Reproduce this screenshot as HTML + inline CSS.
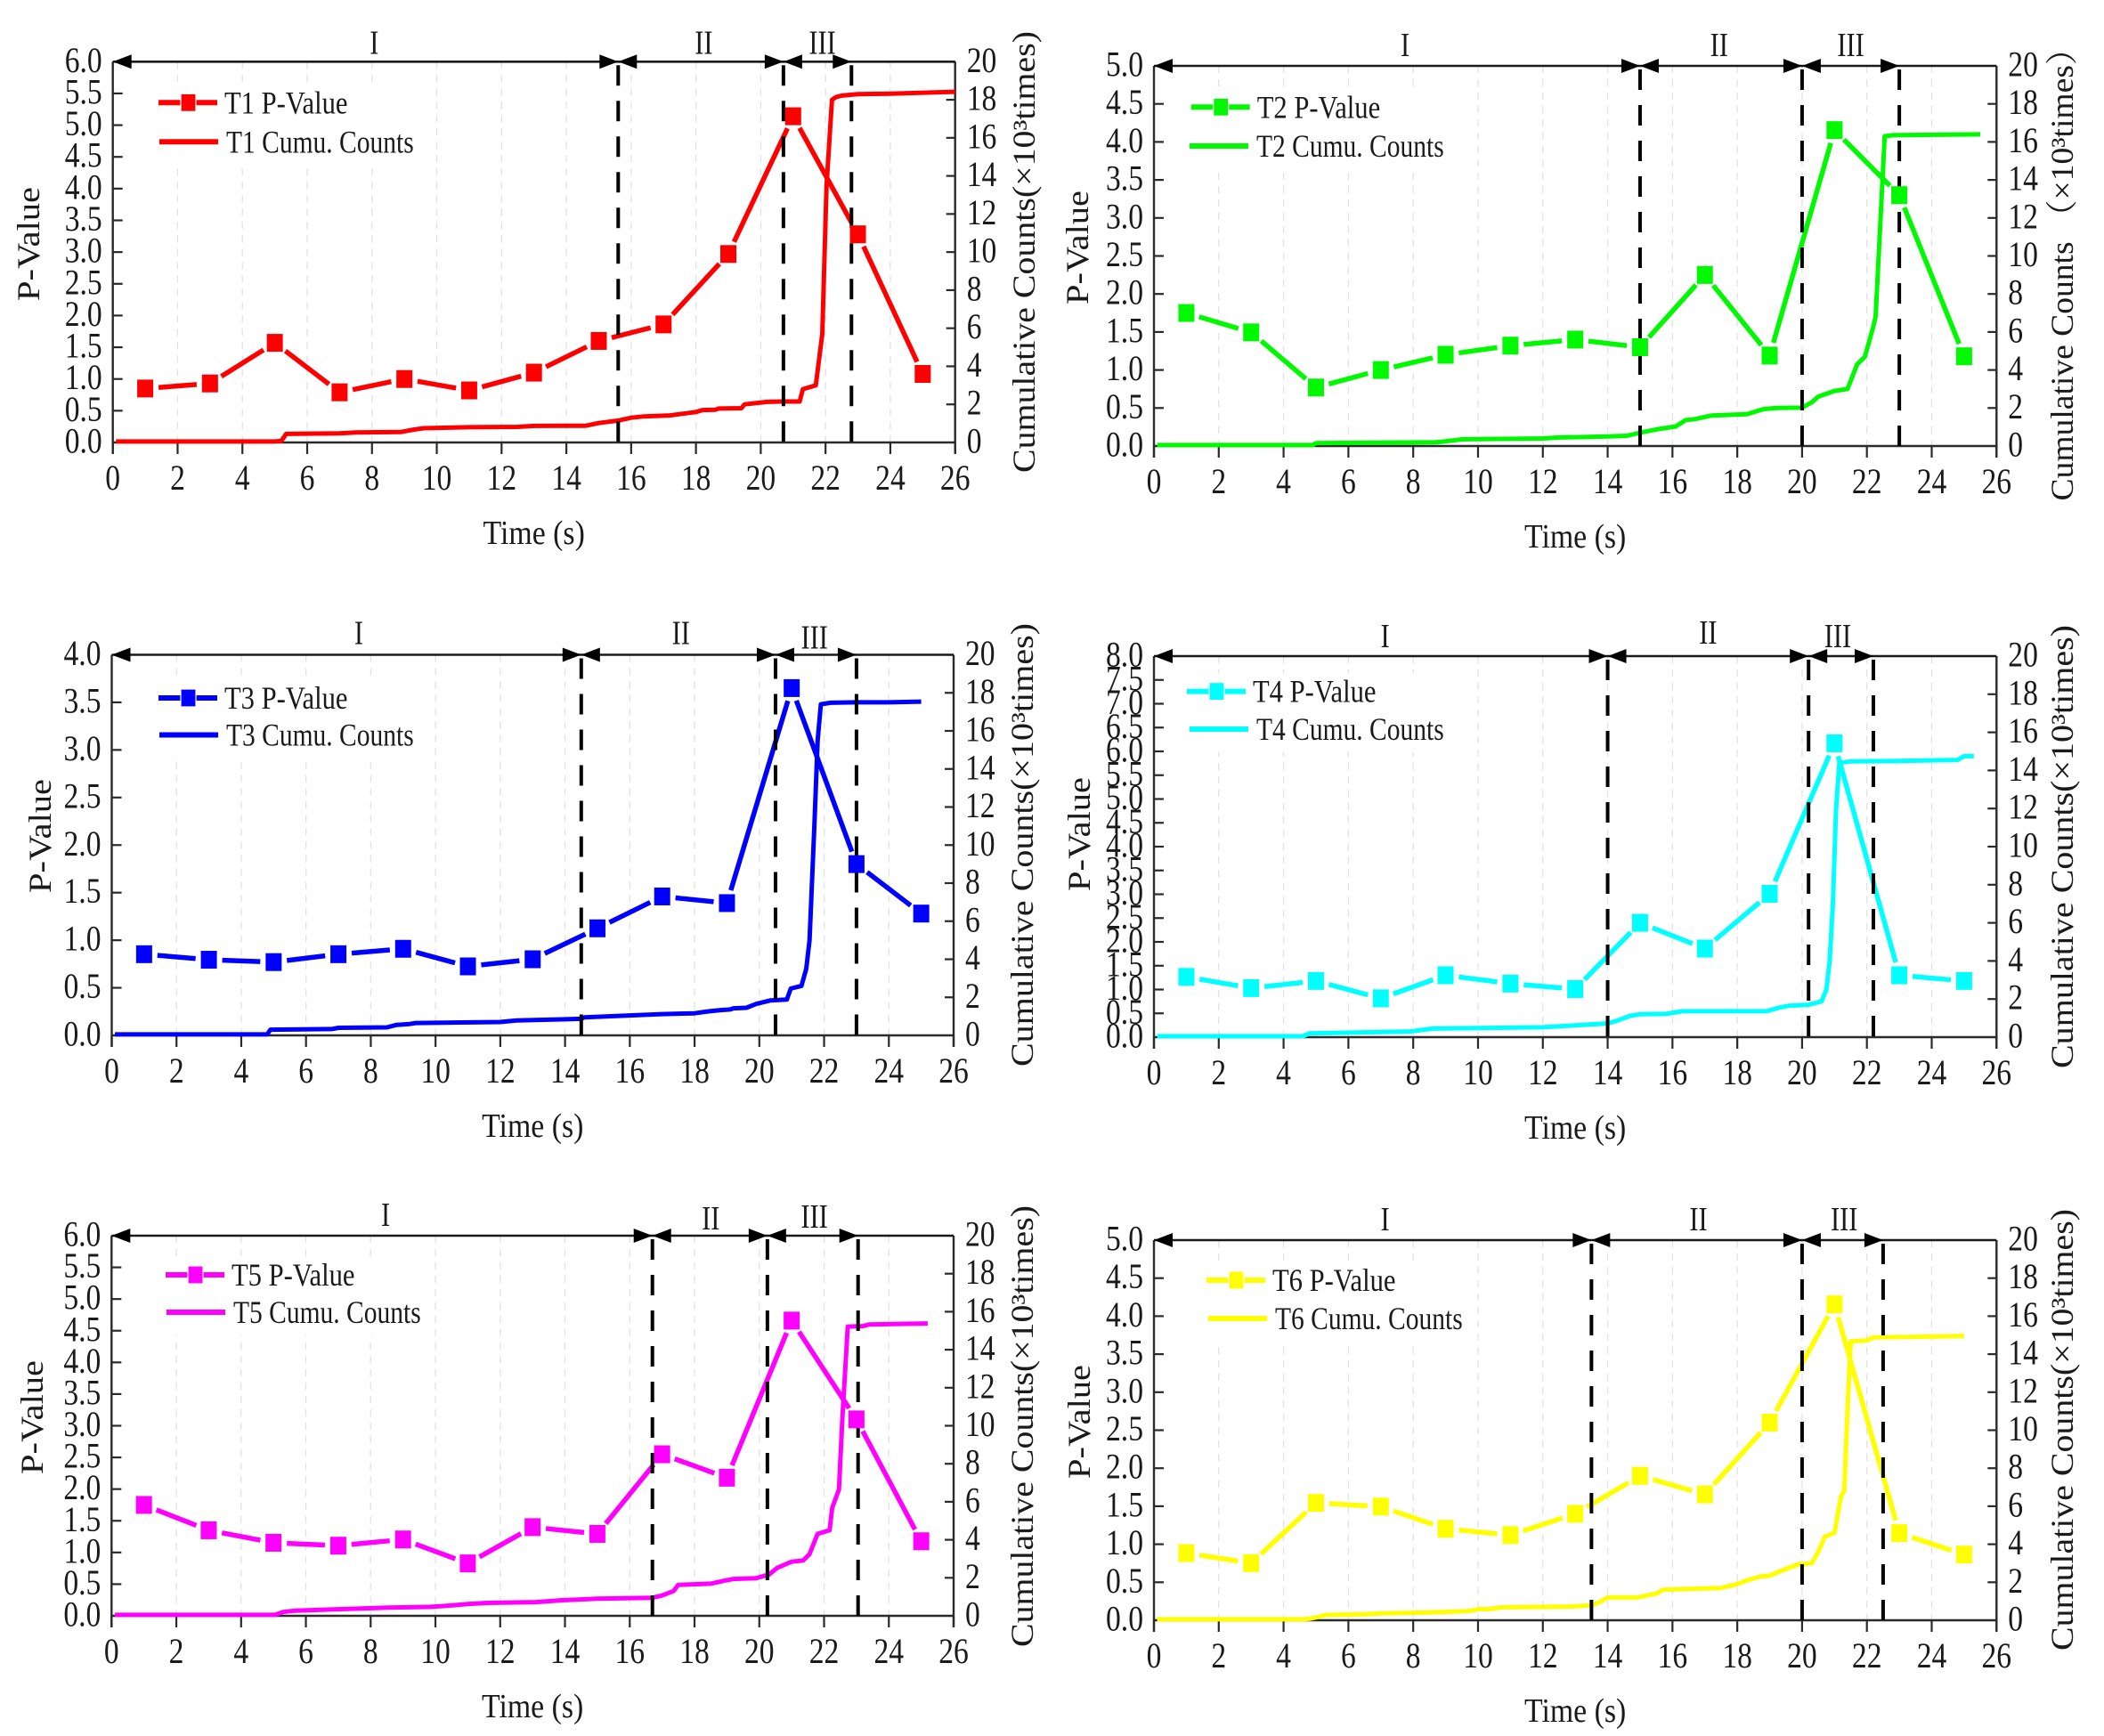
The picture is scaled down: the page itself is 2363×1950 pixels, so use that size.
<!DOCTYPE html>
<html lang="en">
<head>
<meta charset="utf-8">
<title>P-Value and Cumulative Counts for T1–T6</title>
<style>
html,body{margin:0;padding:0;background:#fff;}
svg{display:block;}
text{font-family:"Liberation Serif","Noto Serif CJK SC",serif;fill:#1a1a1a;}
</style>
</head>
<body>
<svg id="chart" xmlns="http://www.w3.org/2000/svg" width="2363" height="1950" viewBox="0 0 2363 1950">
  <rect x="0" y="0" width="2363" height="1950" fill="#ffffff"/>
  <g id="panel-t1"></g>
  <g id="panel-t2"></g>
  <g id="panel-t3"></g>
  <g id="panel-t4"></g>
  <g id="panel-t5"></g>
  <g id="panel-t6"></g>
</svg>
<script>
// Shared axis data
const sampleTimes = [1,3,5,7,9,11,13,15,17,19,21,23,25];
const timeTicks = [0,2,4,6,8,10,12,14,16,18,20,22,24,26];
const countTicks = [0,2,4,6,8,10,12,14,16,18,20];
const phaseNames = ['I','II','III'];

// T1
const t1PTicks = ['0.0','0.5','1.0','1.5','2.0','2.5','3.0','3.5','4.0','4.5','5.0','5.5','6.0'];
const t1PValues = [0.85,0.93,1.57,0.79,1.0,0.82,1.1,1.6,1.86,2.97,5.14,3.28,1.08];
const t1CumuTimes = [0.1,5.0,5.2,5.35,7,7.5,8.9,9.3,9.6,11,12.5,13,14.6,15,15.6,16,16.4,17.2,18,18.2,18.6,18.7,19.4,19.5,20.2,20.7,21.2,21.3,21.7,21.9,22.03,22.2,22.33,22.5,23,24,26];
const t1CumuCounts = [0.05,0.05,0.08,0.45,0.48,0.53,0.55,0.68,0.75,0.8,0.82,0.87,0.88,1.02,1.15,1.3,1.37,1.42,1.6,1.7,1.72,1.78,1.8,2.0,2.13,2.15,2.15,2.8,3.0,5.7,13.5,18.0,18.15,18.22,18.3,18.32,18.42];
const t1Phases = [15.6,20.7,22.8];
const t1PhaseLabelTimes = [8.07,18.24,21.9];

// T2
const t2PTicks = ['0.0','0.5','1.0','1.5','2.0','2.5','3.0','3.5','4.0','4.5','5.0'];
const t2PValues = [1.75,1.495,0.77,1.0,1.2,1.32,1.4,1.3,2.25,1.19,4.155,3.3,1.18];
const t2CumuTimes = [0.1,4.9,5,8.7,9,9.5,12,12.5,14,14.6,15,15.5,16.1,16.4,16.7,17.2,18.3,18.8,19.2,20,20.3,20.5,21,21.4,21.7,21.94,22.2,22.27,22.55,22.8,25.5];
const t2CumuCounts = [0.05,0.05,0.15,0.2,0.25,0.35,0.4,0.45,0.5,0.54,0.7,0.87,1.03,1.36,1.42,1.6,1.67,1.94,2.0,2.02,2.3,2.6,2.9,3.0,4.3,4.7,6.3,6.8,16.3,16.35,16.4];
const t2Phases = [15,20,23];
const t2PhaseLabelTimes = [7.75,17.44,21.5];

// T3
const t3PTicks = ['0.0','0.5','1.0','1.5','2.0','2.5','3.0','3.5','4.0'];
const t3PValues = [0.853,0.795,0.77,0.853,0.91,0.725,0.8,1.125,1.46,1.39,3.65,1.8,1.28];
const t3CumuTimes = [0.1,4.8,4.9,6.8,7,8.5,8.8,9.2,9.4,12,12.5,14.5,14.6,16,17,18,18.4,18.8,19.1,19.2,19.6,19.9,20.35,20.85,20.97,21.3,21.45,21.55,21.7,21.8,21.9,22.2,23,24,25];
const t3CumuCounts = [0.05,0.05,0.3,0.33,0.4,0.42,0.55,0.6,0.65,0.7,0.78,0.87,0.95,1.05,1.12,1.16,1.26,1.33,1.36,1.42,1.45,1.65,1.84,1.88,2.46,2.6,3.5,5,11,15.5,17.4,17.48,17.5,17.5,17.54];
const t3Phases = [14.5,20.5,23];
const t3PhaseLabelTimes = [7.63,17.58,21.7];

// T4
const t4PTicks = ['0.0','0.5','1.0','1.5','2.0','2.5','3.0','3.5','4.0','4.5','5.0','5.5','6.0','6.5','7.0','7.5','8.0'];
const t4PValues = [1.265,1.03,1.18,0.815,1.3,1.125,1.01,2.4,1.86,3.01,6.17,1.3,1.18];
const t4CumuTimes = [0.1,4.6,4.8,7.9,8.6,12,13,14,14.3,14.7,15,15.8,16.3,18.9,19.3,19.6,20.2,20.6,20.75,20.85,20.95,21.05,21.15,21.5,23,24.8,25,25.3];
const t4CumuCounts = [0.05,0.05,0.2,0.3,0.45,0.52,0.62,0.72,0.87,1.12,1.2,1.22,1.36,1.36,1.55,1.65,1.7,1.88,2.5,4,7,12,14.4,14.47,14.5,14.55,14.75,14.75];
const t4Phases = [14,20.2,22.2];
const t4PhaseLabelTimes = [7.13,17.1,21.1];

// T5
const t5PTicks = ['0.0','0.5','1.0','1.5','2.0','2.5','3.0','3.5','4.0','4.5','5.0','5.5','6.0'];
const t5PValues = [1.75,1.35,1.153,1.107,1.205,0.827,1.4,1.293,2.55,2.18,4.66,3.1,1.177];
const t5CumuTimes = [0.1,5.05,5.3,5.67,7.1,8.56,9.8,10.3,11,11.6,13.1,13.9,15,16.7,17,17.35,17.5,18.5,18.9,19.2,19.9,20.3,20.55,21,21.35,21.55,21.8,22.17,22.25,22.46,22.57,22.73,23.2,23.4,25.2];
const t5CumuCounts = [0.05,0.05,0.2,0.27,0.35,0.43,0.47,0.52,0.62,0.68,0.72,0.82,0.9,0.95,1.07,1.3,1.63,1.69,1.84,1.94,1.98,2.17,2.52,2.85,2.91,3.24,4.31,4.5,5.67,6.64,10.5,15.22,15.24,15.33,15.38];
const t5Phases = [16.7,20.25,23.05];
const t5PhaseLabelTimes = [8.46,18.5,21.7];

// T6
const t6PTicks = ['0.0','0.5','1.0','1.5','2.0','2.5','3.0','3.5','4.0','4.5','5.0'];
const t6PValues = [0.883,0.752,1.544,1.495,1.204,1.12,1.4,1.9,1.655,2.6,4.155,1.146,0.864];
const t6CumuTimes = [0.1,4.6,4.8,5,5.3,6.5,7,8.2,9,9.7,10,10.4,10.7,12.8,13.5,13.8,14,14.9,15.5,15.7,16.5,17.5,18,18.3,18.7,19,19.5,19.9,20.3,20.5,20.7,21,21.2,21.3,21.4,21.5,22,22.2,25];
const t6CumuCounts = [0.05,0.05,0.08,0.15,0.28,0.32,0.36,0.4,0.44,0.48,0.58,0.6,0.68,0.72,0.78,1.0,1.2,1.2,1.4,1.6,1.65,1.7,1.9,2.1,2.3,2.35,2.7,2.95,3.0,3.6,4.4,4.6,6.5,6.8,11,14.68,14.72,14.88,14.95];
const t6Phases = [13.5,20,22.5];
const t6PhaseLabelTimes = [7.13,16.8,21.3];

const SVG_NS = 'http://www.w3.org/2000/svg';
const TIME_MAX = 26;
const COUNT_MAX = 20;

function mk(parent, tag, attrs, content) {
  const el = document.createElementNS(SVG_NS, tag);
  for (const k in attrs) el.setAttribute(k, attrs[k]);
  if (content !== undefined) el.textContent = content;
  parent.appendChild(el);
  return el;
}
function squished(parent, x, y, str, size, sx, anchor) {
  return mk(parent, 'text', {
    transform: 'translate(' + x + ',' + y + ') scale(' + sx + ',1)',
    'font-size': size,
    'text-anchor': anchor
  }, str);
}
function rotatedLabel(parent, x, y, str, size, length) {
  return mk(parent, 'text', {
    transform: 'translate(' + x + ',' + y + ') rotate(-90)',
    'font-size': size,
    'text-anchor': 'middle',
    textLength: length,
    lengthAdjust: 'spacingAndGlyphs'
  }, str);
}

function drawPanel(cfg) {
  const root = document.getElementById(cfg.id);
  const L = cfg.left, R = cfg.right, T = cfg.top, B = cfg.bottom;
  const pMax = parseFloat(cfg.pTicks[cfg.pTicks.length - 1]);
  const xOf = function (t) { return L + (R - L) * t / TIME_MAX; };
  const yP = function (v) { return B - (B - T) * v / pMax; };
  const yC = function (v) { return B - (B - T) * v / COUNT_MAX; };
  let el;

  // vertical dashed gridlines
  timeTicks.forEach(function (t) {
    if (t === 0 || t === TIME_MAX) return;
    el = mk(root, 'line', {x1: xOf(t), x2: xOf(t), y1: T, y2: B, stroke: '#e2e2e2', 'stroke-width': 1.3, 'stroke-dasharray': '8 7'});
    
    
  });

  // legend background
  el = mk(root, 'rect', {x: cfg.leg.x - 13, y: cfg.leg.y1 - 20, width: 305, height: cfg.leg.y2 - cfg.leg.y1 + 46, fill: '#fff'});
  
  

  // axes frame
  el = mk(root, 'line', {x1: L, x2: L, y1: T, y2: B + 13, stroke: '#2a2a2a', 'stroke-width': 2.4});
  
  
  el = mk(root, 'line', {x1: R, x2: R, y1: T, y2: B + 13, stroke: '#2a2a2a', 'stroke-width': 2.4});
  
  
  el = mk(root, 'line', {x1: L, x2: R, y1: B, y2: B, stroke: '#2a2a2a', 'stroke-width': 2.4});
  
  
  el = mk(root, 'line', {x1: L, x2: R, y1: T, y2: T, stroke: '#1a1a1a', 'stroke-width': 2.6});
  
  

  // x ticks + labels
  timeTicks.forEach(function (t) {
    el = mk(root, 'line', {x1: xOf(t), x2: xOf(t), y1: B, y2: B + 13, stroke: '#2a2a2a', 'stroke-width': 2.2});
    
    
    el = squished(root, xOf(t), B + 53, String(t), 40, 0.84, 'middle');
    
    
  });

  // left ticks + labels
  cfg.pTicks.forEach(function (s) {
    const v = parseFloat(s);
    if (v > 0 && v < pMax) {
      el = mk(root, 'line', {x1: L, x2: L + 11, y1: yP(v), y2: yP(v), stroke: '#2a2a2a', 'stroke-width': 2.2});
      
      
    }
    el = squished(root, L - 12, yP(v) + 11.5, s, 40, 0.84, 'end');
    
    
  });

  // right ticks + labels
  countTicks.forEach(function (v) {
    if (v > 0 && v < COUNT_MAX) {
      el = mk(root, 'line', {x1: R - 10, x2: R, y1: yC(v), y2: yC(v), stroke: '#2a2a2a', 'stroke-width': 2.2});
      
      
    }
    el = squished(root, R + 13, yC(v) + 11.5, String(v), 40, 0.84, 'start');
    
    
  });

  // cumulative counts curve
  el = mk(root, 'polyline', {
    points: cfg.cumuTimes.map(function (t, i) { return xOf(t).toFixed(1) + ',' + yC(cfg.cumuCounts[i]).toFixed(1); }).join(' '),
    fill: 'none', stroke: cfg.color, 'stroke-width': 5, 'stroke-linejoin': 'round'
  });
  
  

  // P-value segments with symbol gap
  const GAP = 15;
  for (let i = 0; i + 1 < sampleTimes.length; i++) {
    const x0 = xOf(sampleTimes[i]), y0 = yP(cfg.pValues[i]);
    const x1 = xOf(sampleTimes[i + 1]), y1 = yP(cfg.pValues[i + 1]);
    const d = Math.hypot(x1 - x0, y1 - y0);
    if (d <= 2 * GAP) continue;
    const ux = (x1 - x0) / d, uy = (y1 - y0) / d;
    el = mk(root, 'line', {
      x1: x0 + ux * GAP, y1: y0 + uy * GAP, x2: x1 - ux * GAP, y2: y1 - uy * GAP,
      stroke: cfg.color, 'stroke-width': 5.5
    });
    
    
  }

  // phase boundaries, arrows, labels
  let prev = 0;
  cfg.phases.forEach(function (t, i) {
    const x = xOf(t);
    el = mk(root, 'line', {x1: x, x2: x, y1: T + 4, y2: B, stroke: '#000', 'stroke-width': 4, 'stroke-dasharray': '23 17'});
    
    

    const xs = xOf(prev);
    el = mk(root, 'polygon', {points: xs + ',' + T + ' ' + (xs + 21) + ',' + (T - 8) + ' ' + (xs + 21) + ',' + (T + 8), fill: '#000'});
    
    
    el = mk(root, 'polygon', {points: x + ',' + T + ' ' + (x - 21) + ',' + (T - 8) + ' ' + (x - 21) + ',' + (T + 8), fill: '#000'});
    
    
    prev = t;

    el = squished(root, xOf(cfg.phaseLabelTimes[i]), T + cfg.labelOffsets[i] + 13, phaseNames[i], 38, 0.8, 'middle');
    
    
  });

  // P-value markers
  sampleTimes.forEach(function (t, i) {
    el = mk(root, 'rect', {x: xOf(t) - 9, y: yP(cfg.pValues[i]) - 10, width: 18, height: 20, fill: cfg.color});
    
    
  });

  // legend
  const lg = cfg.leg;
  el = mk(root, 'line', {x1: lg.x, x2: lg.x + 66, y1: lg.y1, y2: lg.y1, stroke: cfg.color, 'stroke-width': 6});
  
  
  el = mk(root, 'rect', {x: lg.x + 25, y: lg.y1 - 10, width: 17, height: 20, fill: cfg.color, stroke: '#fff', 'stroke-width': 1.2});
  
  
  el = squished(root, lg.x + 74, lg.y1 + 12, cfg.name + ' P-Value', 36, 0.85, 'start');
  
  
  el = mk(root, 'line', {x1: lg.x2, x2: lg.x2 + 66, y1: lg.y2, y2: lg.y2, stroke: cfg.color, 'stroke-width': 6});
  
  
  el = squished(root, lg.x2 + 75, lg.y2 + 12, cfg.name + ' Cumu. Counts', 36, 0.82, 'start');
  
  

  // axis titles
  el = squished(root, (L + R) / 2, B + 114, 'Time (s)', 38, 0.89, 'middle');
  
  
  el = rotatedLabel(root, cfg.pTitle.x + 12, cfg.pTitle.y, 'P-Value', 36, 128);
  
  
  el = rotatedLabel(root, cfg.cTitle.x + 12, cfg.cTitle.y, cfg.cTitle.text, 36, cfg.cTitle.len);
  
  
}

const countTitle = 'Cumulative Counts(×10³times)';

drawPanel({id:'panel-t1', name:'T1', color:'#ff0000', left:126.7, right:1072.7, top:69.3, bottom:497,
  pTicks:t1PTicks, pValues:t1PValues, cumuTimes:t1CumuTimes, cumuCounts:t1CumuCounts,
  phases:t1Phases, phaseLabelTimes:t1PhaseLabelTimes, labelOffsets:[-22,-22,-22],
  leg:{x:178, y1:115.3, x2:179, y2:159.3},
  pTitle:{x:32, y:274}, cTitle:{x:1150, y:283, text:countTitle, len:496}});

drawPanel({id:'panel-t2', name:'T2', color:'#00f800', left:1296, right:2242.3, top:74, bottom:501,
  pTicks:t2PTicks, pValues:t2PValues, cumuTimes:t2CumuTimes, cumuCounts:t2CumuCounts,
  phases:t2Phases, phaseLabelTimes:t2PhaseLabelTimes, labelOffsets:[-24,-24,-24],
  leg:{x:1337.7, y1:120.3, x2:1336, y2:164},
  pTitle:{x:1210, y:278}, cTitle:{x:2316, y:299, text:'Cumulative Counts （×10³times）', len:527}});

drawPanel({id:'panel-t3', name:'T3', color:'#0000ff', left:125.5, right:1071, top:735.5, bottom:1163,
  pTicks:t3PTicks, pValues:t3PValues, cumuTimes:t3CumuTimes, cumuCounts:t3CumuCounts,
  phases:t3Phases, phaseLabelTimes:t3PhaseLabelTimes, labelOffsets:[-25,-25,-20],
  leg:{x:178, y1:784, x2:179, y2:825.5},
  pTitle:{x:45, y:939}, cTitle:{x:1148, y:949, text:countTitle, len:498}});

drawPanel({id:'panel-t4', name:'T4', color:'#00ffff', left:1296, right:2242.3, top:737, bottom:1165,
  pTicks:t4PTicks, pValues:t4PValues, cumuTimes:t4CumuTimes, cumuCounts:t4CumuCounts,
  phases:t4Phases, phaseLabelTimes:t4PhaseLabelTimes, labelOffsets:[-23,-27,-23],
  leg:{x:1333, y1:776.6, x2:1336, y2:819},
  pTitle:{x:1212, y:937}, cTitle:{x:2316, y:951, text:countTitle, len:498}});

drawPanel({id:'panel-t5', name:'T5', color:'#ff00ff', left:125.3, right:1071, top:1388, bottom:1815,
  pTicks:t5PTicks, pValues:t5PValues, cumuTimes:t5CumuTimes, cumuCounts:t5CumuCounts,
  phases:t5Phases, phaseLabelTimes:t5PhaseLabelTimes, labelOffsets:[-24,-20,-22],
  leg:{x:186, y1:1432, x2:187, y2:1474},
  pTitle:{x:36, y:1592}, cTitle:{x:1148, y:1602, text:countTitle, len:496}});

drawPanel({id:'panel-t6', name:'T6', color:'#ffff00', left:1296, right:2242.3, top:1393, bottom:1820,
  pTicks:t6PTicks, pValues:t6PValues, cumuTimes:t6CumuTimes, cumuCounts:t6CumuCounts,
  phases:t6Phases, phaseLabelTimes:t6PhaseLabelTimes, labelOffsets:[-24,-24,-24],
  leg:{x:1355, y1:1438, x2:1357, y2:1481},
  pTitle:{x:1212, y:1597}, cTitle:{x:2316, y:1606, text:countTitle, len:496}});
</script>
</body>
</html>
